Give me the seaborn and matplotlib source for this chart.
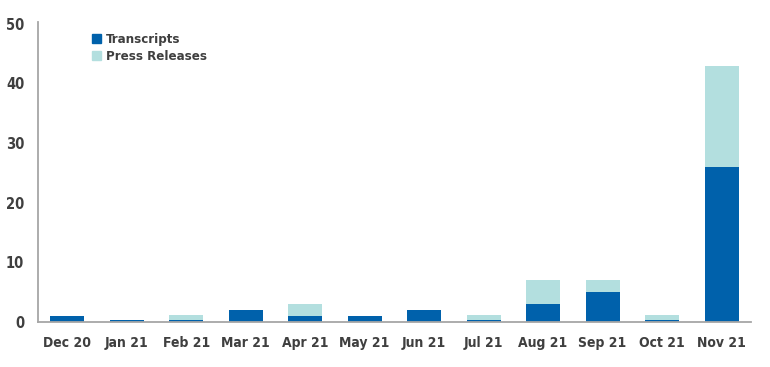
import matplotlib
matplotlib.use("Agg")
import matplotlib.pyplot as plt
import seaborn as sns
import pandas as pd
from matplotlib.patches import Patch

months = ["Dec 20", "Jan 21", "Feb 21", "Mar 21", "Apr 21", "May 21",
          "Jun 21", "Jul 21", "Aug 21", "Sep 21", "Oct 21", "Nov 21"]
transcripts = [1, 0.3, 0.3, 2, 1, 1, 2, 0.3, 3, 5, 0.3, 26]
press_releases = [0, 0, 0.9, 0, 2, 0, 0, 0.9, 4, 2, 0.9, 17]
yticks = [0, 10, 20, 30, 40, 50]

dark = "#0061AB"
light = "#B3DFDF"
grey_txt = "#3F3F3F"

sns.set_theme(style="white")
plt.rcParams['font.family'] = ['DejaVu Sans']
plt.rcParams['font.stretch'] = 'condensed'

df = pd.DataFrame({"month": months, "Transcripts": transcripts,
                   "Press": press_releases})
df["total"] = df["Transcripts"] + df["Press"]

fig = plt.figure(figsize=(7.7, 3.67), dpi=100)
ax = fig.add_axes([0.0494, 0.1226, 0.9256, 0.8174])

sns.barplot(data=df, x="month", y="total", color=light, width=0.57,
            saturation=1, ax=ax, linewidth=0)
sns.barplot(data=df, x="month", y="Transcripts", color=dark, width=0.57,
            saturation=1, ax=ax, linewidth=0)

ax.set_xlim(-0.49, 11.49)
ax.set_ylim(0, 50.3)
ax.set_yticks(yticks)
ax.set_xlabel("")
ax.set_ylabel("")
for s in ["top", "right"]:
    ax.spines[s].set_visible(False)
for s in ["left", "bottom"]:
    ax.spines[s].set_color("#A6A6A6")
    ax.spines[s].set_linewidth(1.3)
ax.tick_params(axis="both", length=0, labelsize=10, colors=grey_txt)
ax.tick_params(axis="y", labelsize=10.5, pad=10)
ax.tick_params(axis="x", pad=10)
for lbl in ax.get_xticklabels() + ax.get_yticklabels():
    lbl.set_fontweight("bold")
    lbl.set_fontstretch("condensed")

handles = [Patch(color=dark, label="Transcripts"),
           Patch(color=light, label="Press Releases")]
leg = ax.legend(handles=handles, loc="upper left", bbox_to_anchor=(0.0757, 0.962),
                frameon=False, handlelength=0.7, handleheight=0.7,
                handletextpad=0.35, labelspacing=0.3, fontsize=9.5,
                borderpad=0, borderaxespad=0)
for t in leg.get_texts():
    t.set_color(grey_txt)
    t.set_fontweight("bold")
    t.set_fontstretch("condensed")

fig.savefig("out.png", dpi=100)
